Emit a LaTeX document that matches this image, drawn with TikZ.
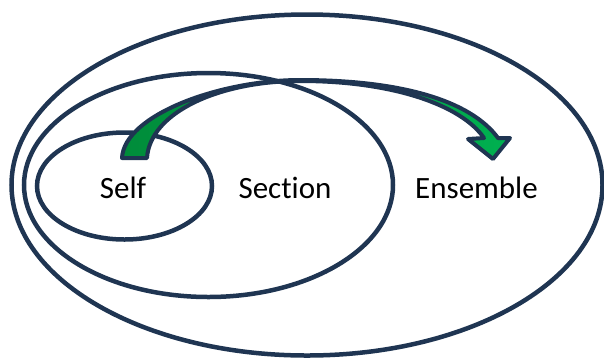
\documentclass[tikz,border=0pt]{standalone}
\usepackage{fontspec}
\setmainfont{Carlito}[Ligatures=NoCommon]
\definecolor{ringblue}{HTML}{1F3552}
\definecolor{arrowdark}{HTML}{008C3A}
\definecolor{arrowlight}{HTML}{00B050}
\usetikzlibrary{
    positioning,
    shapes.geometric,
}
\tikzset{>=latex}

\begin{document}
\begin{tikzpicture}[x=1pt,y=-1pt,
        setring/.style={draw=ringblue,line width=4.5pt,ellipse,inner sep=0pt},
        setlabel/.style={anchor=base,font=\fontsize{31}{31}\selectfont}]
            \useasboundingbox (0,0) rectangle (604,360);
            \node[setring,minimum width=591pt,minimum height=341pt] (ensembleset) at (307,185) {};
            \node[setring,minimum width=369pt,minimum height=224pt] (sectionset) at (208.5,185) {};
            \node[setring,minimum width=175pt,minimum height=107pt] (selfset) at (124.5,186) {};
            \node[setlabel] (self) at (123,198) {Self};
            \node[setlabel] (section) at (285,198) {Section};
            \node[setlabel] (ensemble) at (476.5,198) {Ensemble};
            % curved block arrow from self to ensemble
            \path[draw=ringblue,line width=4pt,line join=round,left color=arrowdark,right color=arrowlight]
                (122,158) .. controls (124,115) and (220,80) .. (300,80)
                .. controls (400,80) and (470,100) .. (498,138)
                -- (510,138) -- (493,159) -- (468,139) -- (484,138)
                .. controls (462,106) and (395,81) .. (300,81)
                .. controls (220,81) and (150,112) .. (147,158) -- cycle;
        \end{tikzpicture}
\end{document}
